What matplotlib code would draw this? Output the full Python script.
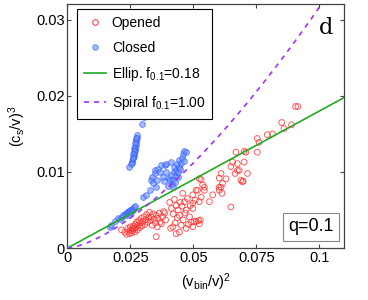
import numpy as np
import matplotlib.pyplot as plt
from matplotlib.lines import Line2D

plt.rcParams['font.family'] = ['Liberation Sans', 'DejaVu Sans']
plt.rcParams['mathtext.fontset'] = 'custom'
plt.rcParams['mathtext.rm'] = 'Liberation Sans'
plt.rcParams['mathtext.it'] = 'Liberation Sans'

# opened (red) points
opened_x = [0.0215, 0.0228, 0.0235, 0.0240, 0.0243, 0.0246, 0.0250, 0.0252, 0.0255, 0.0258,
            0.0260, 0.0263, 0.0265, 0.0268, 0.0270, 0.0272, 0.0275, 0.0278, 0.0281, 0.0284,
            0.0287, 0.0290, 0.0293, 0.0296, 0.0300, 0.0304, 0.0308, 0.0311, 0.0315, 0.0318,
            0.0322, 0.0326, 0.0330, 0.0333, 0.0337, 0.0340, 0.0345, 0.0349, 0.0353, 0.0353,
            0.0357, 0.0360, 0.0365, 0.0368, 0.0373, 0.0378, 0.0382, 0.0386, 0.0390,
            0.0406, 0.0410, 0.0413, 0.0419, 0.0420, 0.0425, 0.0428, 0.0432, 0.0432, 0.0436,
            0.0440, 0.0445, 0.0445, 0.0448, 0.0452, 0.0455, 0.0458, 0.0460, 0.0465, 0.0468,
            0.0472, 0.0472, 0.0476, 0.0480, 0.0485, 0.0488, 0.0492, 0.0498, 0.0498, 0.0498,
            0.0498, 0.0503, 0.0507, 0.0511, 0.0511, 0.0517, 0.0520, 0.0524, 0.0524, 0.0524,
            0.0528, 0.0531, 0.0531, 0.0537, 0.0544, 0.0544, 0.0564, 0.0577,
            0.0603, 0.0603, 0.0603, 0.0610, 0.0610, 0.0614, 0.0616, 0.0630, 0.0649, 0.0649,
            0.0656, 0.0666, 0.0669, 0.0675, 0.0675, 0.0682, 0.0689, 0.0695, 0.0698, 0.0702,
            0.0702, 0.0709, 0.0715, 0.0754, 0.0754, 0.0761, 0.0794, 0.0814, 0.0851, 0.0860,
            0.0890, 0.0906, 0.0915]
opened_y = [0.0024, 0.0021, 0.0018, 0.0026, 0.0022, 0.0019, 0.0028, 0.0024, 0.0020, 0.0026,
            0.0023, 0.0029, 0.0025, 0.0021, 0.0031, 0.0027, 0.0034, 0.0024, 0.0030, 0.0036,
            0.0027, 0.0033, 0.0039, 0.0029, 0.0035, 0.0041, 0.0031, 0.0037, 0.0044, 0.0034,
            0.0040, 0.0047, 0.0036, 0.0041, 0.0030, 0.0045, 0.0038, 0.0033, 0.0043, 0.0015,
            0.0028, 0.0039, 0.0046, 0.0034, 0.0032, 0.0041, 0.0048, 0.0046, 0.0037,
            0.0060, 0.0026, 0.0052, 0.0028, 0.0045, 0.0064, 0.0033, 0.0019, 0.0056, 0.0040,
            0.0050, 0.0021, 0.0043, 0.0060, 0.0030, 0.0055, 0.0072, 0.0037, 0.0061, 0.0046,
            0.0026, 0.0050, 0.0065, 0.0031, 0.0041, 0.0056, 0.0034, 0.0028, 0.0052, 0.0059,
            0.0070, 0.0035, 0.0063, 0.0035, 0.0076, 0.0076, 0.0036, 0.0032, 0.0061, 0.0091,
            0.0037, 0.0067, 0.0090, 0.0083, 0.0076, 0.0080, 0.0061, 0.0070,
            0.0080, 0.0092, 0.0076, 0.0098, 0.0080, 0.0072, 0.0085, 0.0091, 0.0054, 0.0107,
            0.0113, 0.0098, 0.0126, 0.0102, 0.0111, 0.0102, 0.0089, 0.0087, 0.0088, 0.0113,
            0.0127, 0.0126, 0.0098, 0.0126, 0.0144, 0.0139, 0.0149, 0.0150, 0.0165, 0.0157,
            0.0162, 0.0186, 0.0186]

# closed (blue) points
closed_x = [0.0304, 0.0298, 0.0277, 0.0276, 0.0274, 0.0273, 0.0271, 0.0270, 0.0268, 0.0267,
            0.0265, 0.0263, 0.0261, 0.0258, 0.0255, 0.0251, 0.0246, 0.0272, 0.0269, 0.0266,
            0.0264, 0.0262, 0.0259,
            0.0300, 0.0314, 0.0327, 0.0333, 0.0337, 0.0340, 0.0346, 0.0346, 0.0350, 0.0355,
            0.0360, 0.0366, 0.0373, 0.0378, 0.0383, 0.0386, 0.0390, 0.0393, 0.0398, 0.0402,
            0.0406, 0.0410, 0.0412, 0.0414, 0.0419, 0.0419, 0.0422, 0.0425, 0.0428, 0.0430,
            0.0432, 0.0435, 0.0438, 0.0440, 0.0442, 0.0445, 0.0448, 0.0452, 0.0455, 0.0458,
            0.0462, 0.0465, 0.0472,
            0.0168, 0.0175, 0.0188, 0.0201, 0.0210, 0.0215, 0.0222, 0.0228, 0.0232, 0.0235,
            0.0240, 0.0243, 0.0246, 0.0250, 0.0253, 0.0256, 0.0260, 0.0265, 0.0270]
closed_y = [0.0172, 0.0163, 0.0148, 0.0145, 0.0142, 0.0139, 0.0136, 0.0133, 0.0130, 0.0127,
            0.0124, 0.0121, 0.0118, 0.0115, 0.0112, 0.0110, 0.0107, 0.0144, 0.0138, 0.0132,
            0.0127, 0.0124, 0.0119,
            0.0067, 0.0070, 0.0076, 0.0089, 0.0094, 0.0085, 0.0098, 0.0102, 0.0080, 0.0090,
            0.0104, 0.0100, 0.0109, 0.0094, 0.0088, 0.0109, 0.0100, 0.0111, 0.0082, 0.0092,
            0.0089, 0.0096, 0.0113, 0.0084, 0.0080, 0.0090, 0.0100, 0.0107, 0.0087, 0.0095,
            0.0103, 0.0110, 0.0094, 0.0100, 0.0107, 0.0116, 0.0104, 0.0112, 0.0119, 0.0124,
            0.0115, 0.0128, 0.0126,
            0.0028, 0.0030, 0.0035, 0.0039, 0.0038, 0.0041, 0.0043, 0.0045, 0.0043, 0.0047,
            0.0046, 0.0049, 0.0044, 0.0050, 0.0048, 0.0052, 0.0050, 0.0054, 0.0055]

f_ellip = 0.18
f_spiral = 1.00

fig = plt.figure(figsize=(3.68, 3.0), dpi=100)
ax = fig.add_axes([0.183, 0.173, 0.753, 0.812])

ax.scatter(opened_x, opened_y, s=17, facecolors='none', edgecolors='#ff3333',
           linewidths=0.7, alpha=0.8, zorder=2)
ax.scatter(closed_x, closed_y, s=17, facecolors='#7090ff', edgecolors='#2255ff',
           linewidths=0.7, alpha=0.6, zorder=3)

xe = np.array([0, 0.11])
ax.plot(xe, f_ellip * xe, color='#22aa22', lw=1.2, zorder=4)
xs = np.linspace(0, 0.1, 100)
ax.plot(xs, f_spiral * xs ** 1.5, color='#9933ff', lw=1.2, ls=(0, (3, 3)), zorder=4)

ax.set_xlim(0, 0.11)
ax.set_ylim(0, 0.032)
ax.set_xticks([0, 0.025, 0.05, 0.075, 0.1])
ax.set_xticklabels(['0', '0.025', '0.05', '0.075', '0.1'])
ax.set_yticks([0, 0.01, 0.02, 0.03])
ax.set_yticklabels(['0', '0.01', '0.02', '0.03'])
ax.tick_params(direction='in', top=True, right=True, labelsize=10.5, length=3,
               color='#444444', pad=2)
for sp in ax.spines.values():
    sp.set_color('#444444')
    sp.set_linewidth(0.9)

ax.set_xlabel(r'(v$_{\mathrm{bin}}$/v)$^2$', fontsize=10.5, labelpad=5)
ax.set_ylabel(r'(c$_{\mathrm{s}}$/v)$^3$', fontsize=10.5, labelpad=6)

handles = [
    Line2D([], [], ls='none', marker='o', ms=4, mfc='none', mec='#ff3333', mew=0.7),
    Line2D([], [], ls='none', marker='o', ms=4, mfc='#7090ff', mec='#2255ff', mew=0.7, alpha=0.6),
    Line2D([], [], color='#22aa22', lw=1.2),
    Line2D([], [], color='#9933ff', lw=1.2, ls=(0, (3, 3))),
]
labels = ['Opened', 'Closed', r'Ellip. f$_{0.1}$=0.18', r'Spiral f$_{0.1}$=1.00']
leg = ax.legend(handles, labels, loc='upper left', bbox_to_anchor=(0.035, 0.98),
                borderaxespad=0, fontsize=10, fancybox=False, edgecolor='black',
                handlelength=1.6, handletextpad=0.4, labelspacing=0.75, framealpha=1,
                borderpad=0.5)
leg.get_frame().set_linewidth(0.8)

ax.text(0.935, 0.905, 'd', transform=ax.transAxes, fontsize=16,
        family='DejaVu Serif', ha='center', va='center')
ax.text(0.88, 0.088, 'q=0.1', transform=ax.transAxes, fontsize=13, ha='center',
        va='center', bbox=dict(boxstyle='square,pad=0.3', fc='white', ec='#888888', lw=0.8))

fig.savefig('out.png', dpi=100)
